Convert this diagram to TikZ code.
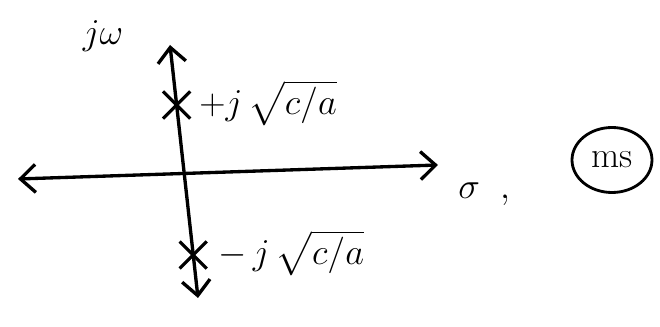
\documentclass[tikz,border=0pt]{standalone}
\usepackage{amsmath}
\usetikzlibrary{arrows.meta,shapes.misc,shapes.geometric}
\tikzset{
  ax/.style={{Straight Barb[length=3mm,width=5.6mm]}-{Straight Barb[length=3mm,width=5.6mm]},line width=1.9pt},
  pol/.style={cross out,draw,line width=1.8pt,minimum size=4.8mm,inner sep=0pt},
  lbl/.style={font=\huge,anchor=west,inner sep=0pt},
  marke/.style={ellipse,draw,line width=1.6pt,minimum width=1.6cm,minimum height=1.3cm,inner sep=1pt,font=\huge},
}
\begin{document}
\begin{tikzpicture}[x=0.02cm,y=-0.02cm]
  \useasboundingbox (0,0) rectangle (660,327);
  % achsen
  \coordinate (imT) at (170,45);
  \coordinate (imB) at (198,298);
  \coordinate (reL) at (18,179);
  \coordinate (reR) at (438,165);
  \draw[ax] (imB)--(imT);
  \draw[ax] (reL)--(reR);
  \node[font=\huge] (jw) at (103,36) {$j\omega$};
  \node[lbl] (sig) at (458,194) {$\sigma\;\;,$};
  % pole
  \node[pol] (pUp) at (176.6,105) {};
  \node[pol] (pDn) at (193.2,255) {};
  \node[lbl] (lUp) at (199,103) {$+j\,\sqrt{c/a}$};
  \node[lbl] (lDn) at (218,253) {$-\,j\,\sqrt{c/a}$};
  \node[marke] (ms) at (612,160) {ms};
\end{tikzpicture}
\end{document}
